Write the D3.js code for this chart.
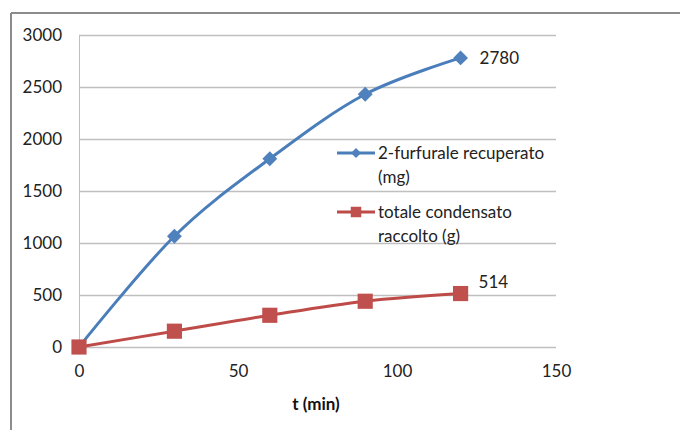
<!DOCTYPE html>
<html>
<head>
<meta charset="utf-8">
<script src="https://cdn.jsdelivr.net/npm/d3@7"></script>
<style>
  html, body { margin: 0; padding: 0; background: #fff; }
  svg { display: block; font-family: Lato, "Open Sans", sans-serif; }
</style>
</head>
<body>
<svg id="chart" width="680" height="430"></svg>
<script>
// Sampling times (min)
const times = [0, 30, 60, 90, 120];
// 2-furfurale recuperato (mg)
const furfurale = [0, 1065, 1810, 2430, 2780];
// totale condensato raccolto (g)
const condensato = [0, 152, 305, 440, 514];
const xTicks = [0, 50, 100, 150];
const yTicks = [0, 500, 1000, 1500, 2000, 2500, 3000];
const seriesNames = [["2-furfurale recuperato", "(mg)"], ["totale condensato", "raccolto (g)"]];
const axisTitle = "t (min)";

const svg = d3.select("#chart");
const fontSize = 17;

// Outer chart frame (only left and top edges fall inside the view)
svg.append("line").attr("x1", 11).attr("x2", 11).attr("y1", 13).attr("y2", 430)
  .attr("stroke", "#8c8c8c").attr("stroke-width", 2);
svg.append("line").attr("x1", 11).attr("x2", 680).attr("y1", 13).attr("y2", 13)
  .attr("stroke", "#8c8c8c").attr("stroke-width", 2);

const x = d3.scaleLinear().domain([0, 150]).range([79, 556]);
const y = d3.scaleLinear().domain([0, 3000]).range([347, 35]);

// Horizontal gridlines
const yAxis = d3.axisLeft(y).tickValues(yTicks).tickSize(-(x(150) - x(0))).tickPadding(17).tickFormat(d3.format("d"));
const gy = svg.append("g").attr("transform", `translate(${x(0)},0)`).call(yAxis);
gy.select(".domain").attr("stroke", "#bfbfbf").attr("stroke-width", 1);
gy.selectAll(".tick line").attr("stroke", "#bfbfbf").attr("stroke-width", 1.3);
gy.selectAll(".tick text").attr("font-size", fontSize).attr("fill", "#222")
  .attr("font-family", "Lato, 'Open Sans', sans-serif");

// X axis tick labels (no visible axis line beyond the zero gridline)
const xAxis = d3.axisBottom(x).tickValues(xTicks).tickSize(0).tickPadding(18).tickFormat(d3.format("d"));
const gx = svg.append("g").attr("transform", `translate(0,${y(0)})`).call(xAxis);
gx.select(".domain").remove();
gx.selectAll(".tick text").attr("font-size", fontSize).attr("fill", "#222")
  .attr("font-family", "Lato, 'Open Sans', sans-serif");

// Axis title
svg.append("text").attr("x", 316).attr("y", 410).attr("text-anchor", "middle")
  .attr("font-size", fontSize).attr("font-weight", "bold").attr("fill", "#111").text(axisTitle);

const line = d3.line().curve(d3.curveCardinal.tension(0))
  .x(d => x(d[0])).y(d => y(d[1]));

const blue = "#4A7EBB", blueMark = "#4F81BD";
const red = "#BE4B48", redMark = "#C0504D";

const furfPts = times.map((t, i) => [t, furfurale[i]]);
const condPts = times.map((t, i) => [t, condensato[i]]);

svg.append("path").datum(furfPts).attr("d", line).attr("fill", "none")
  .attr("stroke", blue).attr("stroke-width", 3).attr("stroke-linejoin", "round");
svg.append("path").datum(condPts).attr("d", line).attr("fill", "none")
  .attr("stroke", red).attr("stroke-width", 3).attr("stroke-linejoin", "round");

const diamond = d3.symbol().type(d3.symbolSquare).size(110);
const square = d3.symbol().type(d3.symbolSquare).size(230);

svg.append("g").selectAll("path").data(furfPts).join("path")
  .attr("d", diamond)
  .attr("transform", d => `translate(${x(d[0])},${y(d[1])}) rotate(45)`)
  .attr("fill", blueMark);
svg.append("g").selectAll("path").data(condPts).join("path")
  .attr("d", square)
  .attr("transform", d => `translate(${x(d[0])},${y(d[1])})`)
  .attr("fill", redMark);

// Value labels on the last point of each series
const last = times.length - 1;
svg.append("text").attr("x", x(times[last]) + 19).attr("y", y(furfurale[last]))
  .attr("dy", "0.35em").attr("font-size", fontSize).attr("fill", "#222").text(furfurale[last]);
svg.append("text").attr("x", x(times[last]) + 18).attr("y", y(condensato[last]) - 11)
  .attr("dy", "0.35em").attr("font-size", fontSize).attr("fill", "#222").text(condensato[last]);

// Legend
const legend = svg.append("g");
const legendItems = [
  { y: 153, color: blue, mark: blueMark, sym: "diamond", lines: seriesNames[0] },
  { y: 212, color: red, mark: redMark, sym: "square", lines: seriesNames[1] }
];
legendItems.forEach(it => {
  legend.append("line").attr("x1", 337).attr("x2", 375).attr("y1", it.y).attr("y2", it.y)
    .attr("stroke", it.color).attr("stroke-width", 3);
  if (it.sym === "diamond") {
    legend.append("path").attr("d", d3.symbol().type(d3.symbolSquare).size(50))
      .attr("transform", `translate(356,${it.y}) rotate(45)`).attr("fill", it.mark);
  } else {
    legend.append("path").attr("d", d3.symbol().type(d3.symbolSquare).size(110))
      .attr("transform", `translate(356,${it.y})`).attr("fill", it.mark);
  }
  it.lines.forEach((t, j) => {
    legend.append("text").attr("x", 378).attr("y", it.y + j * 24).attr("dy", "0.35em")
      .attr("font-size", fontSize).attr("fill", "#222").text(t);
  });
});
</script>
</body>
</html>
